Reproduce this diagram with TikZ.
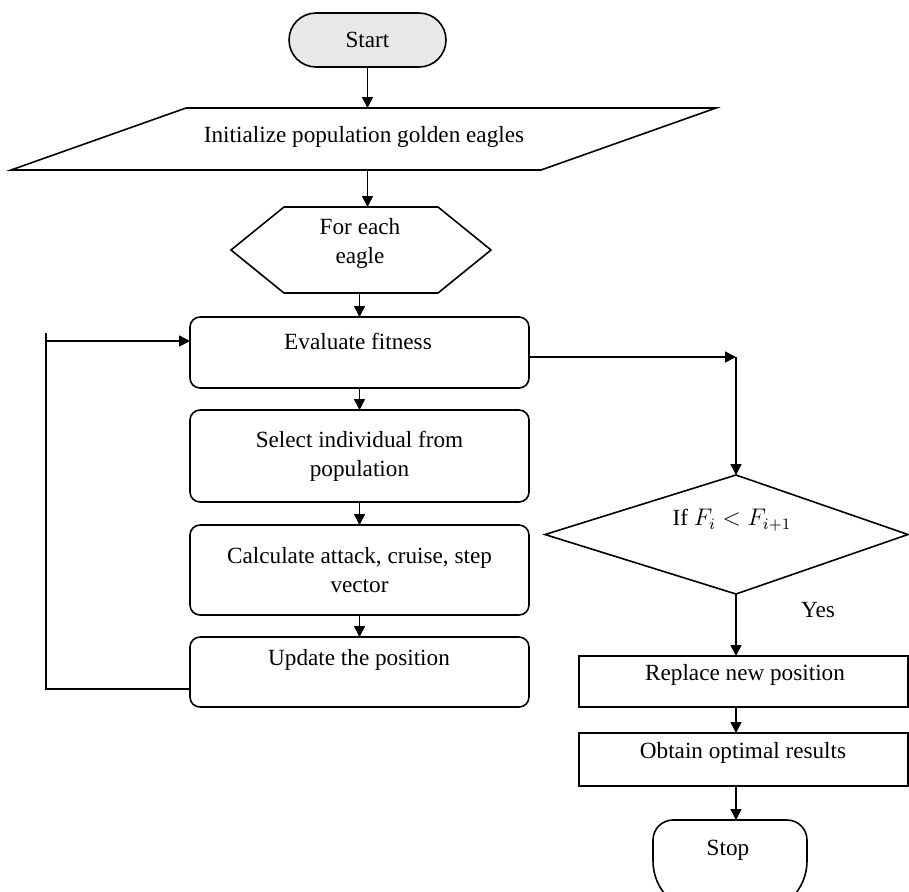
\documentclass[tikz,border=0pt]{standalone}
\usepackage{fontspec}
\setmainfont{Liberation Serif}
\usetikzlibrary{arrows.meta,calc}
\begin{document}
\begin{tikzpicture}[x=0.5pt,y=-0.5pt,
  font=\fontsize{11.6}{14.5}\selectfont,
  line/.style={draw=black, line width=0.8pt},
  arr/.style={line, -{Triangle[length=5.5pt,width=5.5pt]}},
  box/.style={line, rounded corners=5pt, minimum width=169.5pt, inner sep=0pt, outer sep=0pt, align=center},
  sbox/.style={line, minimum width=164.5pt, inner sep=0pt, outer sep=0pt, align=center},
  txt/.style={inner sep=0pt, outer sep=0pt, align=center}]

\useasboundingbox (0,0) rectangle (909,891);
\clip (0,0) rectangle (909,891);

% Start
\node[line, fill=gray!18, rounded corners=13.5pt, minimum width=78.5pt, minimum height=27pt, inner sep=0pt, outer sep=0pt] (start) at (367.5,40) {Start};

% Initialize (parallelogram)
\node[txt, minimum width=265pt, minimum height=31pt] (init) at (363.5,139) {};
\draw[line] ($(init.south west)+(-87.5,0)$) -- ($(init.north west)+(87.5,0)$) -- ($(init.north east)+(87.5,0)$) -- ($(init.south east)+(-87.5,0)$) -- cycle;
\node[txt] (initT) at (364,137) {Initialize population golden eagles};

% For each eagle (hexagon)
\node[txt, minimum width=130pt, minimum height=43pt] (hex) at (361,250) {};
\draw[line] (hex.west) -- ($(hex.north west)+(53,0)$) -- ($(hex.north east)+(-53,0)$) -- (hex.east) -- ($(hex.south east)+(-53,0)$) -- ($(hex.south west)+(53,0)$) -- cycle;
\node[txt] (hexT) at (360,243) {For each\\eagle};

% Loop boxes
\node[box, minimum height=35.5pt] (eval) at (359.5,352.5) {};
\node[txt] (evalT) at (358,341) {Evaluate fitness};
\node[box, minimum height=46pt] (select) at (359.5,456) {Select individual from\\population};
\node[box, minimum height=45pt] (calc) at (359.5,570) {Calculate attack, cruise, step\\vector};
\node[box, minimum height=35pt] (update) at (359.5,672) {};
\node[txt] (updateT) at (359,660) {Update the position};

% Decision
\node[txt, minimum width=191pt, minimum height=59.5pt] (dec) at (736,534.5) {};
\draw[line] (dec.west) -- (dec.north) -- ($(dec.east)+(-19,0)$) -- (dec.south) -- cycle;
\node[txt] (decT) at (732,520) {If $F_i < F_{i+1}$};
\node[txt] (yes) at (818,610) {Yes};

% Right column
\node[sbox, minimum height=25.5pt] (replace) at (743.5,681.5) {};
\node[txt] (replaceT) at (745,675) {Replace new position};
\node[sbox, minimum height=26.5pt] (obtain) at (743.5,759.5) {};
\node[txt] (obtainT) at (743,753) {Obtain optimal results};
\node[txt, minimum width=77pt, minimum height=46.5pt] (stop) at (730,866.5) {};
\draw[line] (stop.south) [rounded corners=26pt] -- (stop.south west) [rounded corners=10pt] -- (stop.north west) -- (stop.north east) [rounded corners=26pt] -- (stop.south east) -- (stop.south);
\node[txt] (stopT) at (728,850) {Stop};

% Connectors, main column
\draw[arr] (start.south) -- (start.south |- init.north);
\draw[arr] (start.south |- init.south) -- (start.south |- hex.north);
\draw[arr] (eval.north |- hex.south) -- (eval.north);
\draw[arr] (eval.south) -- (select.north);
\draw[arr] (select.south) -- (calc.north);
\draw[arr] (calc.south) -- (update.north);

% Loop back
\coordinate (lb) at (46,689);
\coordinate (lt) at (46,333);
\coordinate (la) at (46,341);
\draw[line] (update.west |- lb) -- (lb) -- (lt);
\draw[arr] (la) -- (la -| eval.west);

% To decision
\coordinate (rc) at (736,357);
\draw[arr] (eval.east |- rc) -- (rc);
\draw[arr] (rc) -- (dec.north);

% Right column connectors
\draw[arr] (dec.south) -- (dec.south |- replace.north);
\draw[arr] (dec.south |- replace.south) -- (dec.south |- obtain.north);
\draw[arr] (dec.south |- obtain.south) -- (dec.south |- stop.north);
\end{tikzpicture}
\end{document}
